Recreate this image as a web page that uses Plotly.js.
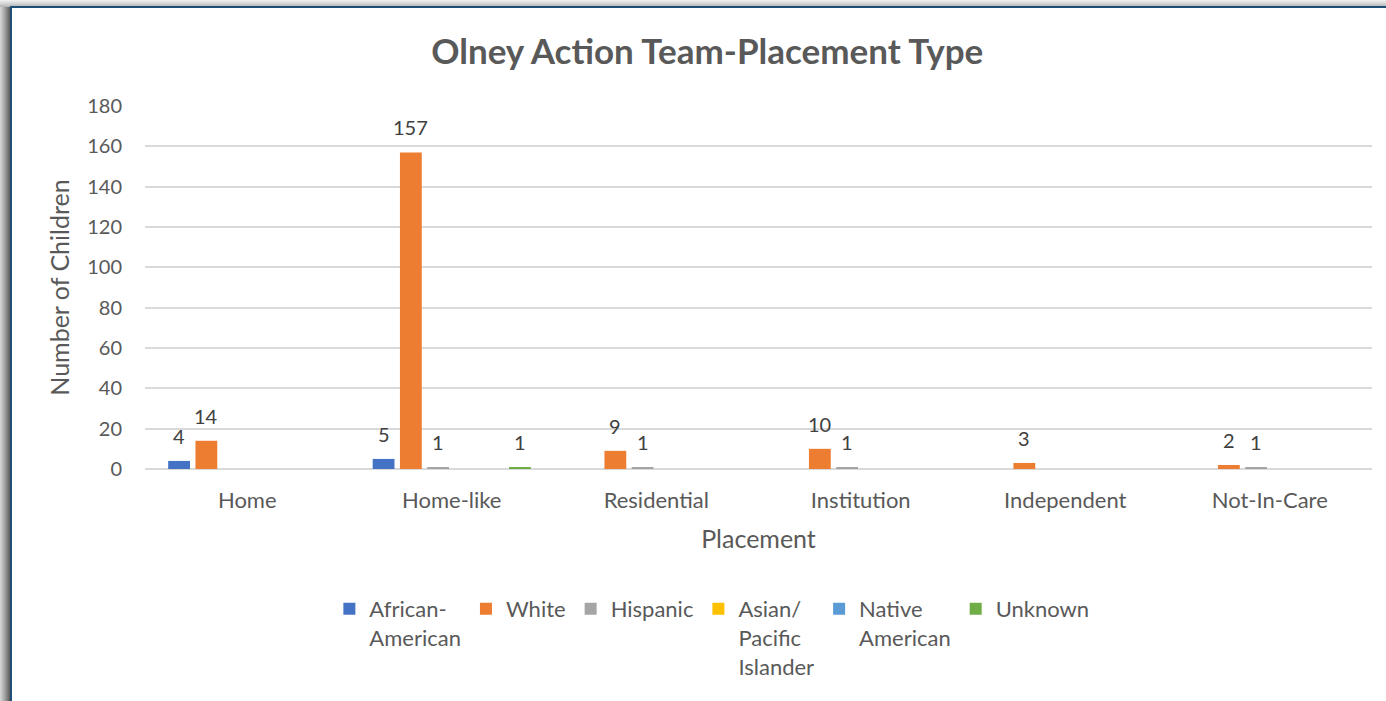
<!DOCTYPE html>
<html>
<head>
<meta charset="utf-8">
<script src="https://cdn.plot.ly/plotly-3.0.1.min.js"></script>
<style>
  html, body { margin: 0; padding: 0; background: #ffffff; width: 1386px; height: 701px; overflow: hidden; }
  #shadow { position: absolute; left: 0; top: 0; width: 1386px; height: 701px;
            background: linear-gradient(to right, #d8d8d8 0px, #a0a0a0 5px, #5a5a5a 10px, #5a5a5a 11px, transparent 11px); }
  #shadowTop { position: absolute; left: 0; top: 0; width: 1386px; height: 7px;
            background: linear-gradient(to bottom, #f2f2f2 0px, #d0d0d0 4px, #b0b0b0 7px); }
  #frame { position: absolute; left: 10px; top: 6px; width: 1376px; height: 695px;
           border-left: 2px solid #1f4e79; border-top: 2px solid #1f4e79; background: #ffffff; }
  #chart { position: absolute; left: 0; top: 0; width: 1374px; height: 693px; }
</style>
</head>
<body>
<div id="shadow"></div>
<div id="shadowTop"></div>
<div id="frame"><div id="chart"></div></div>
<script>
const categories = ['Home', 'Home-like', 'Residential', 'Institution', 'Independent', 'Not-In-Care'];
const seriesNames = ['African-<br>American', 'White', 'Hispanic', 'Asian/<br>Pacific<br>Islander', 'Native<br>American', 'Unknown'];
const africanAmerican = [4, 5, 0, 0, 0, 0];
const white = [14, 157, 9, 10, 3, 2];
const hispanic = [0, 1, 1, 1, 0, 1];
const asianPacific = [0, 0, 0, 0, 0, 0];
const nativeAmerican = [0, 0, 0, 0, 0, 0];
const unknown = [0, 1, 0, 0, 0, 0];
const seriesValues = [africanAmerican, white, hispanic, asianPacific, nativeAmerican, unknown];
const seriesColors = ['#4472C4', '#ED7D31', '#A5A5A5', '#FFC000', '#5B9BD5', '#70AD47'];
const yTicks = [0, 20, 40, 60, 80, 100, 120, 140, 160, 180];

const FONT = 'Lato, "Open Sans", sans-serif';
const W = 1374, H = 693;
const margin = {l: 133, r: 14, t: 98, b: 232, pad: 0, autoexpand: false};
const bargap = 0.2;
const plotW = W - margin.l - margin.r;
const catW = plotW / categories.length;
const slotW = catW * (1 - bargap) / seriesValues.length;

const traces = seriesValues.map((vals, i) => ({
  type: 'bar',
  name: seriesNames[i],
  x: categories,
  y: vals,
  marker: {color: seriesColors[i]},
  hoverinfo: 'x+y'
}));

const annotations = [];
seriesValues.forEach((vals, i) => {
  vals.forEach((v, j) => {
    if (v > 0) {
      annotations.push({
        x: categories[j], y: v, xref: 'x', yref: 'y',
        text: String(v), showarrow: false,
        xanchor: 'center', yanchor: 'bottom',
        xshift: (i - (seriesValues.length - 1) / 2) * slotW,
        yshift: 11,
        font: {family: FONT, size: 20, color: '#404040'}
      });
    }
  });
});

const layout = {
  width: W, height: H,
  margin: margin,
  paper_bgcolor: '#ffffff',
  plot_bgcolor: '#ffffff',
  barmode: 'group',
  bargap: bargap,
  bargroupgap: 0.2,
  font: {family: FONT, color: '#595959', size: 20},
  title: {
    text: '<b>Olney Action Team-Placement Type</b>',
    font: {family: FONT, size: 35, color: '#595959'},
    x: 0.506, xanchor: 'center',
    y: 1 - 44 / H, yanchor: 'middle', yref: 'container'
  },
  xaxis: {
    type: 'category',
    showgrid: false, zeroline: false, showline: false,
    ticks: '', ticklabelstandoff: 16,
    tickfont: {family: FONT, size: 22, color: '#595959'},
    title: {text: 'Placement', font: {family: FONT, size: 25, color: '#595959'}, standoff: 18}
  },
  yaxis: {
    range: [0, 180],
    tickvals: yTicks,
    ticktext: yTicks.map(String),
    showgrid: true, gridcolor: '#d9d9d9', gridwidth: 2,
    zeroline: true, zerolinecolor: '#d9d9d9', zerolinewidth: 2,
    showline: false, ticks: '', ticklabelstandoff: 22,
    tickfont: {family: FONT, size: 20, color: '#595959'},
    title: {text: 'Number of Children', font: {family: FONT, size: 25, color: '#595959'}, standoff: 10}
  },
  showlegend: true,
  legend: {
    orientation: 'h',
    x: 0.462, xanchor: 'center',
    y: -0.328, yanchor: 'top',
    valign: 'top',
    itemwidth: 30,
    traceorder: 'normal',
    font: {family: FONT, size: 22, color: '#595959'}
  },
  annotations: annotations
};

Plotly.newPlot('chart', traces, layout, {displayModeBar: false, staticPlot: true});
</script>
</body>
</html>
